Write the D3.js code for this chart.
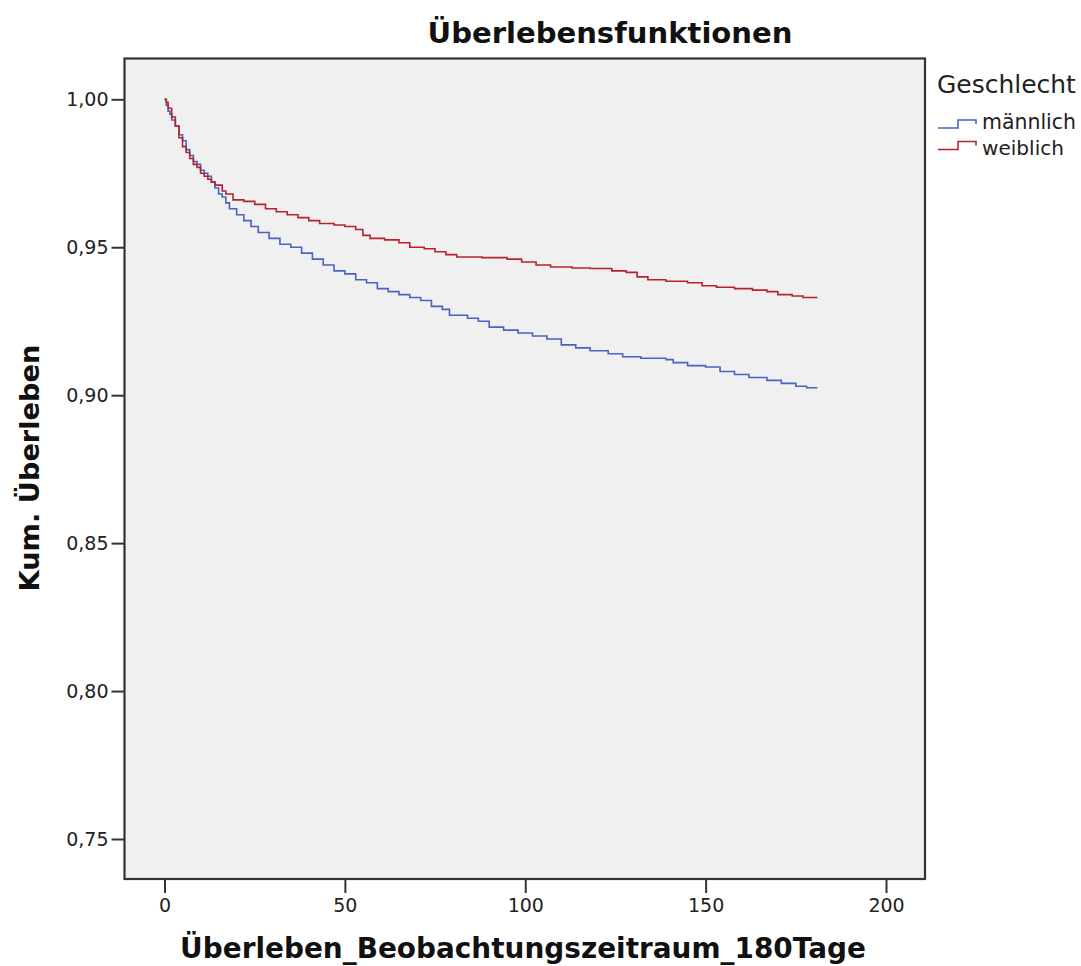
<!DOCTYPE html>
<html><head><meta charset="utf-8">
<script src="https://cdn.jsdelivr.net/npm/d3@7"></script>
<style>body{margin:0;background:#fff;}svg{display:block;font-family:"DejaVu Sans",sans-serif;}</style>
</head><body><svg id="c" width="1081" height="966"></svg>
<script>
const title = "Überlebensfunktionen";
const xLabel = "Überleben_Beobachtungszeitraum_180Tage";
const yLabel = "Kum. Überleben";
const legendTitle = "Geschlecht";
const seriesNames = ["männlich", "weiblich"];
const seriesColors = ["#4a62c2", "#b5232e"];
const xTicks = [0, 50, 100, 150, 200];
const yTicks = [0.75, 0.80, 0.85, 0.90, 0.95, 1.00];

const maleDays = [0,0.5,1,1.5,2,3,4,5,6,7,8,9,10,11,12,13,14,15,16,17,18,20,22,24,26,29,32,35,38,41,44,47,50,53,56,59,62,65,68,71,74,77,79,84,87,90,94,98,102,106,110,114,118,123,127,132,139,141,145,150,154,158,162,167,171,175,178,181];
const maleSurv = [1.000,0.998,0.996,0.995,0.993,0.991,0.988,0.986,0.983,0.981,0.979,0.978,0.976,0.975,0.974,0.972,0.970,0.968,0.967,0.965,0.963,0.961,0.959,0.957,0.955,0.953,0.951,0.950,0.948,0.946,0.944,0.942,0.941,0.939,0.938,0.936,0.935,0.934,0.933,0.932,0.930,0.929,0.927,0.926,0.925,0.923,0.922,0.921,0.920,0.919,0.917,0.916,0.915,0.914,0.913,0.9125,0.912,0.911,0.910,0.9095,0.908,0.907,0.906,0.905,0.904,0.903,0.9025,0.9025];

const femaleDays = [0,0.5,1,2,3,4,5,6,7,8,9,10,11,12,13,14,16,17,19,22,25,28,31,34,37,40,43,47,50,53,55,57,61,65,68,72,75,78,81,88,95,99,103,107,113,118,124,128,131,134,139,145,149,153,158,163,167,170,174,177,181];
const femaleSurv = [1.000,0.999,0.997,0.994,0.991,0.987,0.984,0.982,0.980,0.978,0.977,0.975,0.974,0.973,0.972,0.971,0.969,0.968,0.966,0.9655,0.9645,0.963,0.962,0.961,0.960,0.959,0.958,0.9575,0.957,0.956,0.954,0.953,0.9525,0.9515,0.950,0.9495,0.9485,0.9475,0.9467,0.9465,0.946,0.945,0.944,0.9433,0.943,0.9428,0.942,0.9415,0.940,0.939,0.9385,0.938,0.937,0.9365,0.936,0.9355,0.935,0.934,0.9335,0.933,0.933];

const series = [
  {name: seriesNames[0], color: seriesColors[0], pts: maleDays.map((d,i)=>[d, maleSurv[i]])},
  {name: seriesNames[1], color: seriesColors[1], pts: femaleDays.map((d,i)=>[d, femaleSurv[i]])}
];

const svg = d3.select("#c");
const frame = {l:124.5, r:925, t:58.5, b:879};
const x = d3.scaleLinear().domain([0,200]).range([164.5,886]);
const y = d3.scaleLinear().domain([0.75,1.00]).range([839,99.3]);

function fitText(sel, target, base){
  const w = sel.node().getComputedTextLength();
  sel.attr("font-size", base*target/w);
}

svg.append("rect").attr("x",frame.l).attr("y",frame.t).attr("width",frame.r-frame.l).attr("height",frame.b-frame.t)
  .attr("fill","#f0f0f0").attr("stroke","#333").attr("stroke-width",2.2);

// axes
const fmt = d => d.toFixed(2).replace(".", ",");
const yAxis = svg.append("g").attr("transform",`translate(${frame.l},0)`)
  .call(d3.axisLeft(y).tickValues(yTicks).tickFormat(fmt).tickSize(13).tickPadding(3));
yAxis.select(".domain").remove();
yAxis.selectAll("line").attr("stroke","#333").attr("stroke-width",2);
yAxis.selectAll("text").attr("font-size",19).attr("fill","#222").attr("font-family","DejaVu Sans");

const xAxis = svg.append("g").attr("transform",`translate(0,${frame.b})`)
  .call(d3.axisBottom(x).tickValues(xTicks).tickFormat(d3.format("d")).tickSize(14).tickPadding(6));
xAxis.select(".domain").remove();
xAxis.selectAll("line").attr("stroke","#333").attr("stroke-width",2);
xAxis.selectAll("text").attr("font-size",19).attr("fill","#222").attr("font-family","DejaVu Sans");

// lines
const line = d3.line().x(d=>x(d[0])).y(d=>y(d[1])).curve(d3.curveStepAfter);
series.forEach(s=>{
  svg.append("path").datum(s.pts).attr("d",line).attr("fill","none")
    .attr("stroke",s.color).attr("stroke-width",1.6);
});

// title & labels
const t = svg.append("text").attr("x",610).attr("y",43).attr("text-anchor","middle")
  .attr("font-weight","bold").attr("font-size",24).attr("fill","#111").text(title);
fitText(t, 365, 24);
const xl = svg.append("text").attr("x",523).attr("y",958).attr("text-anchor","middle")
  .attr("font-weight","bold").attr("font-size",24).attr("fill","#111").text(xLabel);
fitText(xl, 686, 24);
const yl = svg.append("text").attr("transform","translate(39,468) rotate(-90)").attr("text-anchor","middle")
  .attr("font-weight","bold").attr("font-size",24).attr("fill","#111").text(yLabel);
fitText(yl, 247, 24);

// legend
const lt = svg.append("text").attr("x",937).attr("y",93).attr("font-size",19).attr("fill","#222").text(legendTitle);
fitText(lt, 139, 19);
const symY = [128, 149.5];
const txtY = [129, 155];
series.forEach((s,i)=>{
  const yb = symY[i];
  svg.append("path").attr("d",`M938,${yb}H958V${yb-8}H976V${yb-4}`).attr("fill","none")
    .attr("stroke",s.color).attr("stroke-width",1.6);
  const tx = svg.append("text").attr("x",982).attr("y",txtY[i]).attr("font-size",17).attr("fill","#222").text(s.name);
  fitText(tx, i===0?94:82, 17);
});
</script></body></html>
